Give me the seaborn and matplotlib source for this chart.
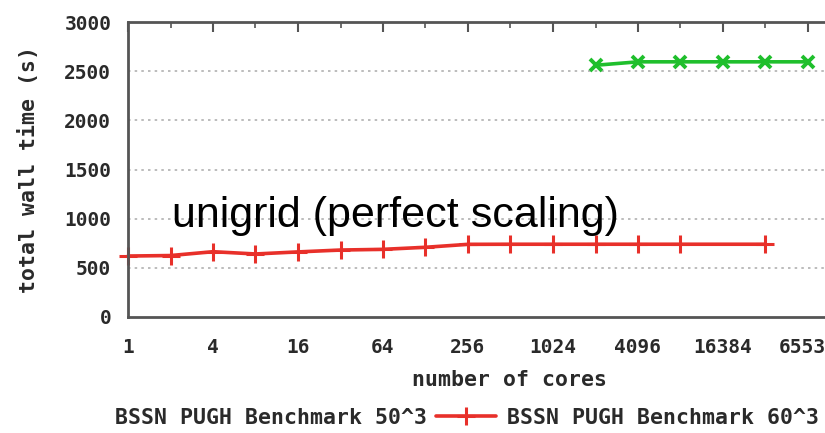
import numpy as np
import pandas as pd
import matplotlib
matplotlib.use("Agg")
import matplotlib.pyplot as plt
import seaborn as sns
from matplotlib.ticker import FixedLocator, NullFormatter

# ---- data ----
cores_50 = [1, 2, 4, 8, 16, 32, 64, 128, 256, 512, 1024, 2048, 4096, 8192, 32768]
time_50 = [620, 625, 664, 641, 662, 681, 688, 709, 739, 740, 740, 740, 740, 740, 740]
cores_60 = [2048, 4096, 8192, 16384, 32768, 65536]
time_60 = [2560, 2595, 2595, 2595, 2595, 2595]
label_50 = "BSSN PUGH Benchmark 50^3"
label_60 = "BSSN PUGH Benchmark 60^3"
x_ticks = [1, 4, 16, 64, 256, 1024, 4096, 16384, 65536]
y_ticks = [0, 500, 1000, 1500, 2000, 2500, 3000]
annotation = "unigrid (perfect scaling)"

sns.set_style("white")
plt.rcParams["font.family"] = ["DejaVu Sans Mono"]

W, H = 825, 433
fig = plt.figure(figsize=(W / 100, H / 100), dpi=100)
left, right_px = 128, 128 + 17 * 42.5
top, bottom = 22, 317
ax = fig.add_axes([left / W, 1 - bottom / H, (right_px - left) / W, (bottom - top) / H])

red = "#e8302a"
green = "#1fbf2c"
txt = "#2a2a2a"

df50 = pd.DataFrame({"cores": cores_50, "time": time_50})
df60 = pd.DataFrame({"cores": cores_60, "time": time_60})
sns.lineplot(data=df50, x="cores", y="time", ax=ax, color=red, lw=2.6,
             marker="+", markersize=13, markeredgewidth=2.2, markeredgecolor=red,
             label=label_50, clip_on=False)
sns.lineplot(data=df60, x="cores", y="time", ax=ax, color=green, lw=2.6,
             marker="x", markersize=9, markeredgewidth=2.8, markeredgecolor=green,
             label=label_60)

ax.set_xscale("log", base=2)
ax.set_xlim(1, 2 ** 17)
ax.set_ylim(0, 3000)
ax.xaxis.set_major_locator(FixedLocator(x_ticks))
ax.set_xticklabels([str(v) for v in x_ticks])
ax.xaxis.set_minor_locator(FixedLocator([2 * v for v in x_ticks]))
ax.xaxis.set_minor_formatter(NullFormatter())
ax.set_yticks(y_ticks)
ax.set_yticklabels([str(v) for v in y_ticks])

for y in y_ticks[1:-1]:
    ax.axhline(y, color="#b0b0b0", lw=1.2, ls=(0, (1.5, 2.5)), zorder=0)

for s in ["left", "bottom", "top"]:
    ax.spines[s].set_color("#555555")
    ax.spines[s].set_linewidth(2)
ax.spines["right"].set_visible(False)

ax.tick_params(axis="both", which="both", direction="in", top=True, colors="#555555",
               labelcolor=txt, labelsize=14)
ax.tick_params(axis="x", which="major", length=7, width=1.5, pad=15)
ax.tick_params(axis="x", which="minor", length=4, width=1.2)
ax.tick_params(axis="y", which="major", length=6, width=1.5, pad=12)
for lab in ax.get_xticklabels() + ax.get_yticklabels():
    lab.set_fontweight("bold")

ax.set_xlabel("")
ax.set_ylabel("total wall time (s)", fontsize=15.5, fontweight="bold", color=txt, labelpad=18)
fig.text(510 / W, 1 - 380 / H, "number of cores", ha="center", va="center",
         fontsize=15.5, fontweight="bold", color=txt)

fig.text(172 / W, 1 - 227 / H, annotation, ha="left", va="baseline",
         fontsize=31, family=["Liberation Sans"], color="black")

ax.get_legend().remove()
handles, labels = ax.get_legend_handles_labels()
leg = fig.legend(handles, labels, loc="center left", bbox_to_anchor=(115 / W, 1 - 418 / H),
                 ncol=2, frameon=False, markerfirst=False, borderpad=0, borderaxespad=0,
                 handlelength=2.8, handletextpad=0.4, columnspacing=0.5,
                 prop={"family": "DejaVu Sans Mono", "weight": "bold", "size": 15.5})
for t in leg.get_texts():
    t.set_color(txt)

fig.savefig("out.png", dpi=100)
